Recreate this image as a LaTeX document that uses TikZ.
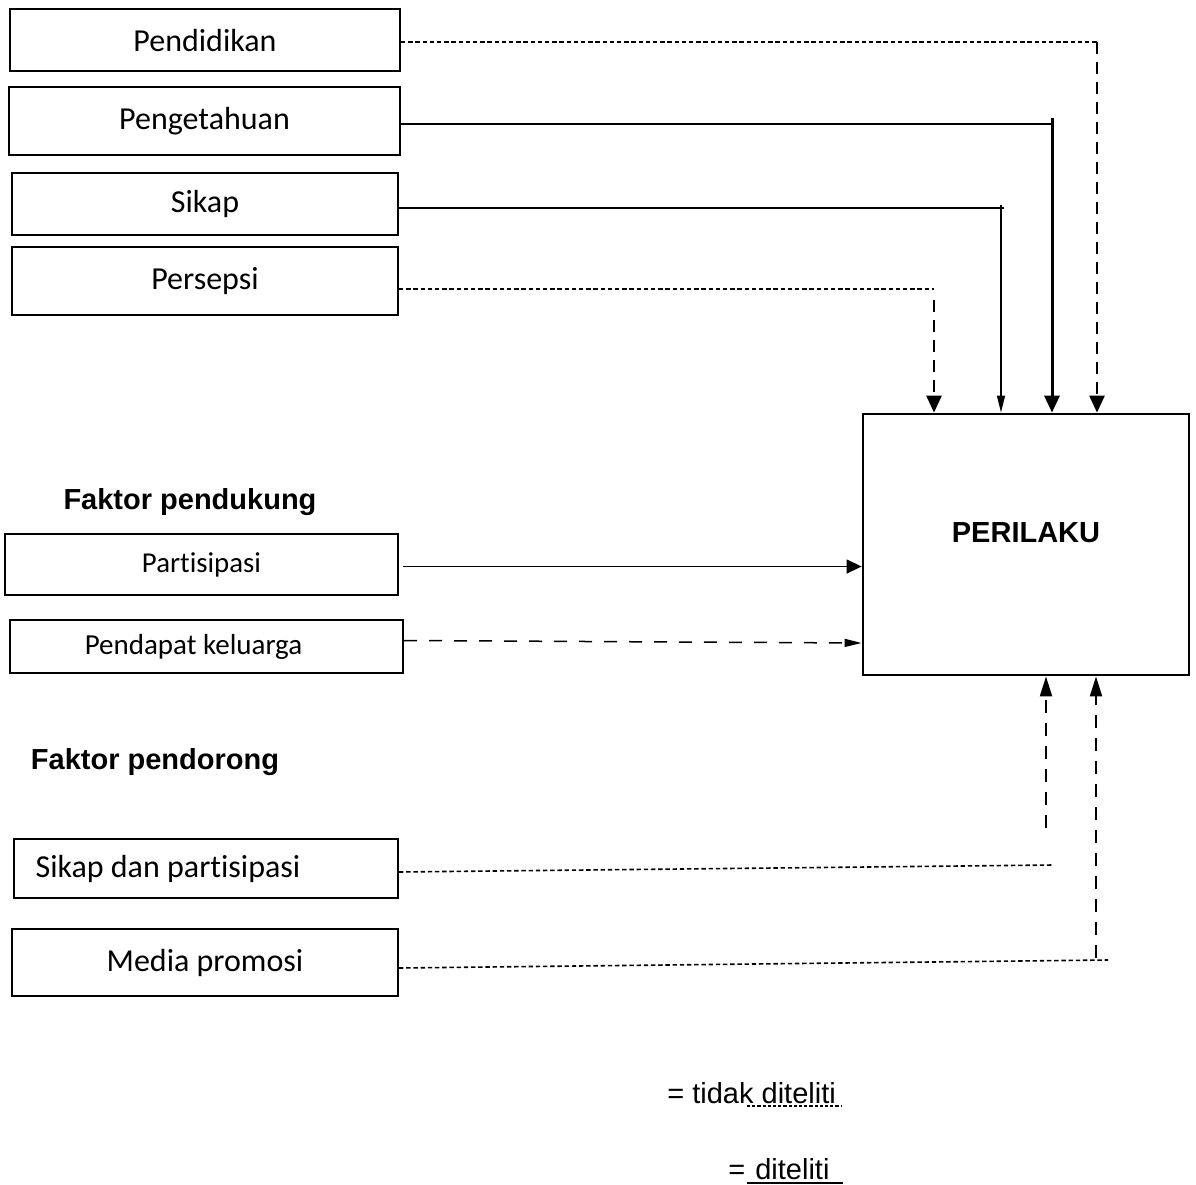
\documentclass[tikz,border=0pt]{standalone}
\usepackage{fontspec}
\setmainfont{Carlito}[Ligatures=NoCommon]
\newfontfamily\arialfont{Liberation Sans}
\usetikzlibrary{arrows.meta}

\tikzset{
  kotak/.style={draw, line width=1pt, inner sep=0pt, font=\fontsize{16}{19}\selectfont},
  judul/.style={font=\arialfont\bfseries\fontsize{14.5}{17}\selectfont, inner sep=0pt},
  ket/.style={font=\arialfont\fontsize{14.5}{17}\selectfont, inner sep=0pt, anchor=base west},
  % garis: tidak diteliti (putus-putus) dan diteliti (utuh)
  tdk/.style={dash pattern=on 2.2pt off 1.4pt, line width=0.8pt},
  tdkpanjang/.style={dash pattern=on 6pt off 4pt, line width=1.4pt},
  tdkbawah/.style={dash pattern=on 6.5pt off 5pt, line width=1pt},
  tdksamping/.style={dash pattern=on 6.5pt off 6pt, line width=0.75pt},
  dtl/.style={line width=0.9pt},
  dtltipis/.style={line width=0.7pt},
  dtltebal/.style={line width=1.5pt},
  % mata panah
  panahbesar/.style={-{Triangle[length=8.5pt, width=7.5pt]}},
  panahkecil/.style={-{Triangle[length=8.5pt, width=4pt]}},
  panahsedang/.style={-{Triangle[length=7.5pt, width=7pt]}},
  panahbawah/.style={-{Triangle[length=10pt, width=6pt]}}
}

\begin{document}
\begin{tikzpicture}[x=0.5pt, y=-0.5pt]
\useasboundingbox (0,0) rectangle (1196,1185);

% === Faktor predisposisi ===
\node[kotak, minimum width=195pt, minimum height=31pt] (pendidikan) at (205,40) {Pendidikan};
\node[kotak, minimum width=195.5pt, minimum height=34pt] (pengetahuan) at (204.5,121) {Pengetahuan};
\node[kotak, minimum width=193pt, minimum height=31pt] (sikap) at (205,204) {Sikap};
\node[kotak, minimum width=193pt, minimum height=34pt] (persepsi) at (205,281) {Persepsi};

% === Faktor pendukung ===
\node[judul] (pendukung) at (190,502) {Faktor pendukung};
\node[kotak, line width=1.2pt, minimum width=196.5pt, minimum height=30.5pt,
      font=\fontsize{14.4}{17}\selectfont] (partisipasi) at (201.5,564.5) {Partisipasi};
\node[kotak, minimum width=196.5pt, minimum height=26.5pt,
      font=\fontsize{14.5}{17}\selectfont] (pendapat) at (206.5,646.5) {Pendapat keluarga\hspace*{13pt}};

% === Faktor pendorong ===
\node[judul] (pendorong) at (155,762) {Faktor pendorong};
\node[kotak, minimum width=192pt, minimum height=29.5pt] (sikapdan) at (206,868.5) {Sikap dan partisipasi\hspace*{38pt}};
\node[kotak, minimum width=193pt, minimum height=33.5pt] (media) at (205,962.5) {Media promosi};

% === Perilaku ===
\node[draw, line width=1.4pt, minimum width=163pt, minimum height=130.5pt] (perilaku) at (1026,544.5) {};
\node[judul] (perilakuteks) at (1026,533) {PERILAKU};

% === Titik belok ===
\coordinate (bA) at (1097,42);
\coordinate (bB) at (1052,124);
\coordinate (bC) at (1001,208);
\coordinate (bD) at (934,289);
\coordinate (bE) at (863,643);
\coordinate (bF) at (1053,865);
\coordinate (bG) at (1046,828);
\coordinate (bH) at (1108,960);
\coordinate (bI) at (1096,958);

% Pendidikan -> perilaku (tidak diteliti)
\draw[tdk] ([yshift=-1pt]pendidikan.east) -- (bA);
\draw[tdkpanjang, panahbesar] (bA) -- (bA |- perilaku.north);

% Pengetahuan -> perilaku
\draw[dtl] ([yshift=-1.5pt]pengetahuan.east) -- (bB);
\draw[dtltebal, panahbesar] ([yshift=3pt]bB) -- (bB |- perilaku.north);

% Sikap -> perilaku
\draw[dtl] ([yshift=-2pt]sikap.east) -- ([xshift=1.5pt]bC);
\draw[dtltipis, panahkecil] ([yshift=1.5pt]bC) -- (bC |- perilaku.north);

% Persepsi -> perilaku (tidak diteliti)
\draw[tdk] ([yshift=-4pt]persepsi.east) -- (bD);
\draw[tdkpanjang, panahbesar] ([yshift=-5.5pt]bD) -- (bD |- perilaku.north);

% Faktor pendukung -> perilaku
\draw[dtltipis, panahsedang] ([xshift=2pt, yshift=-1pt]partisipasi.east) -- ([yshift=-1pt]partisipasi.east -| perilaku.west);
\draw[tdksamping, panahkecil] ([yshift=3pt]pendapat.east) -- (bE -| perilaku.west);

% Faktor pendorong -> perilaku (tidak diteliti)
\draw[tdk] ([yshift=-1.75pt]sikapdan.east) -- (bF);
\draw[tdkbawah, panahbawah] (bG) -- (bG |- perilaku.south);
\draw[tdk] ([yshift=-2.75pt]media.east) -- (bH);
\draw[tdkbawah, panahbawah] (bI) -- (bI |- perilaku.south);

% === Keterangan ===
\node[ket] (ketA) at (667,1103) {= tidak diteliti};
\coordinate (gA1) at (747,1106);
\coordinate (gA2) at (841,1106);
\draw[tdk, line width=0.6pt, dash pattern=on 1.6pt off 1pt] (gA1) -- (gA2);
\node[ket] (ketB) at (728,1179) {=\hspace{5pt}diteliti};
\coordinate (gB1) at (747,1183);
\coordinate (gB2) at (843,1183);
\draw[dtl] (gB1) -- (gB2);

\end{tikzpicture}
\end{document}
